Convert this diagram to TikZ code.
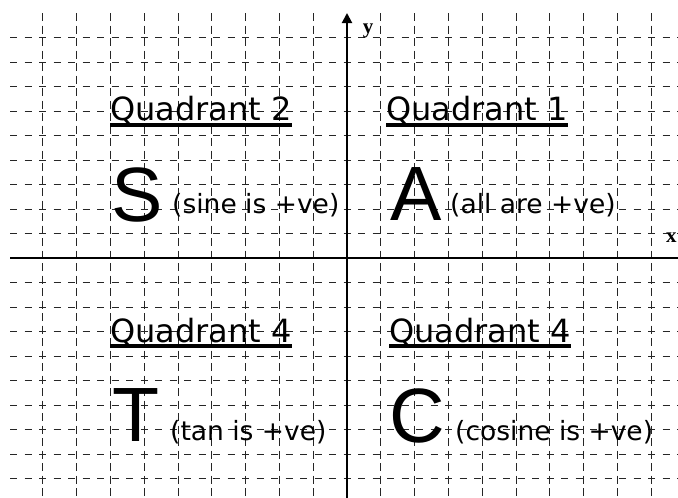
\documentclass[tikz,border=0pt]{standalone}
\usepackage{fontspec}
\setmainfont{DejaVu Sans}
\newfontfamily\bigfont{Liberation Sans}
\newfontfamily\axfont{Liberation Serif}
\usetikzlibrary{arrows.meta}
\tikzset{
  hgrid/.style={line width=0.8pt, black!85, dash pattern=on 7pt off 7.5pt},
  vgrid/.style={line width=0.8pt, black!85, dash pattern=on 8pt off 4.5pt},
  axisline/.style={line width=2pt, black},
  axlab/.style={font=\axfont\bfseries\fontsize{21}{21}\selectfont, inner sep=0pt},
  qlab/.style={font=\fontsize{32}{32}\selectfont, anchor=base west, inner sep=0pt},
  biglet/.style={font=\bigfont\fontsize{77}{77}\selectfont, anchor=base west, inner sep=0pt},
  note/.style={font=\fontsize{26.5}{26.5}\selectfont, anchor=base west, inner sep=0pt},
  uline/.style={line width=3.3pt, black}
}
\begin{document}
\begin{tikzpicture}[x=1pt,y=-1pt]
\useasboundingbox (0,0) rectangle (678,498);
\fill[white] (0,0) rectangle (678,498);
% grid
\foreach \k in {-9,...,-1,1,2,...,9}
  \draw[vgrid] ({347+33.8*\k},13) -- ({347+33.8*\k},498);
\foreach \k in {-9,...,-1,1,2,...,9}
  \draw[hgrid] (10,{258+24.5*\k}) -- (678,{258+24.5*\k});
% axes
\coordinate (xl) at (10,258);
\coordinate (xr) at (678,258);
\coordinate (yb) at (347,498);
\coordinate (yt) at (347,13);
\draw[axisline] (xl) -- (xr);
\draw[axisline, -{Triangle[width=10pt,length=10pt]}] (yb) -- (yt);
\node[axlab] (ylab) at (368,31) {y};
\node[axlab, anchor=west] (xlab) at (666,238) {x};
% quadrant labels
\node[qlab] (q2) at (110,120) {Quadrant 2};
\node[qlab] (q1) at (386,120) {Quadrant 1};
\node[qlab] (q3) at (110,342) {Quadrant 4};
\node[qlab] (q4) at (389,342) {Quadrant 4};
\foreach \q in {q1,q2} \draw[uline] ([yshift=-5pt]\q.base west) -- ([yshift=-5pt]\q.base east);
\foreach \q in {q3,q4} \draw[uline] ([yshift=-4pt]\q.base west) -- ([yshift=-4pt]\q.base east);
% big letters
\node[biglet] (S) at (111,221) {S};
\node[biglet] (A) at (390,220) {A};
\node[biglet] (T) at (112,441) {T};
\node[biglet] (C) at (389,442) {C};
% notes
\node[note] (sn) at (172,213) {(sine is +ve)};
\node[note] (an) at (450,213) {(all are +ve)};
\node[note] (tn) at (170,440) {(tan is +ve)};
\node[note] (cn) at (455,440) {(cosine is +ve)};
\end{tikzpicture}
\end{document}
